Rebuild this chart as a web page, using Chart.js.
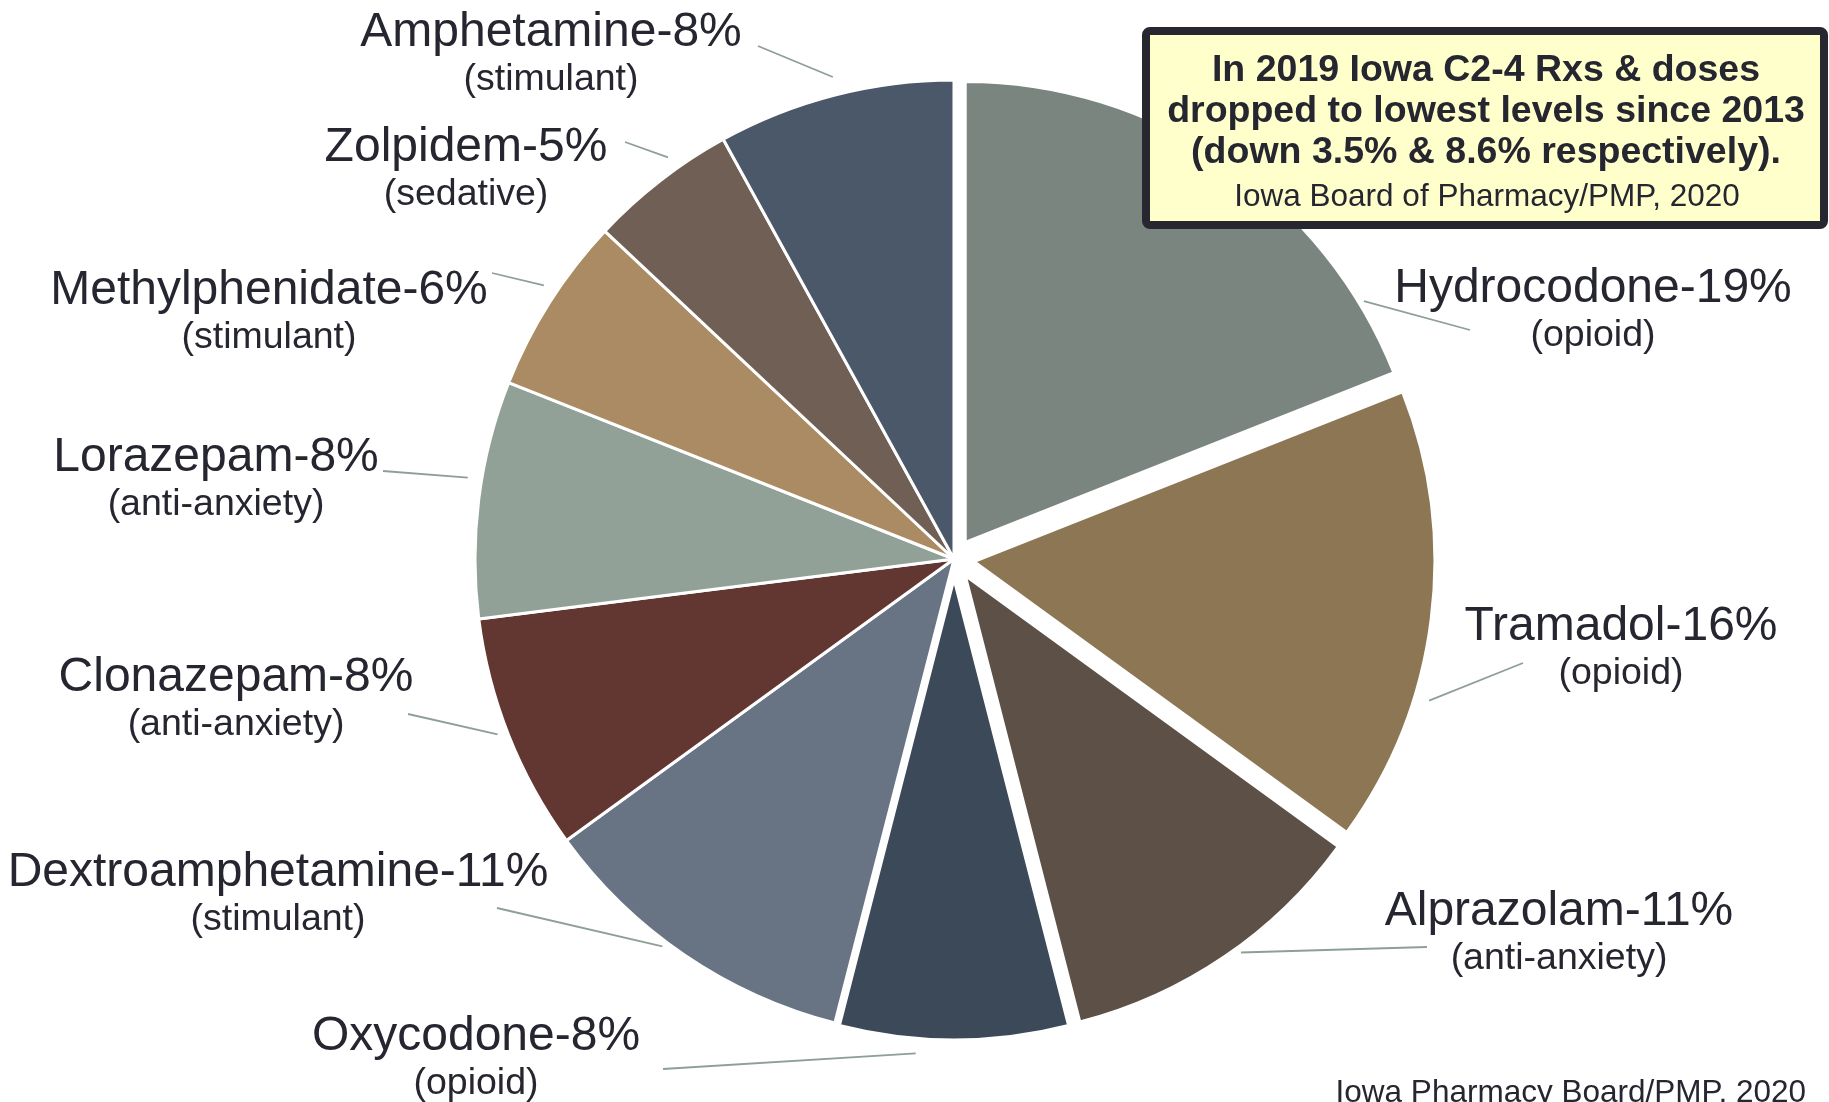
<!DOCTYPE html>
<html>
<head>
<meta charset="utf-8">
<title>Iowa C2-4 Rxs 2019</title>
<script src="https://cdn.jsdelivr.net/npm/chart.js@4.4.1/dist/chart.umd.min.js"></script>
<style>
  html, body { margin:0; padding:0; background:#fff; overflow:hidden; }
  canvas { display:block; }
</style>
</head>
<body>
<canvas id="pie" width="1829" height="1102"></canvas>
<script>
// share of 2019 Iowa C2-4 prescriptions, clockwise from 12 o'clock
var drugs   = ['Hydrocodone','Tramadol','Alprazolam','Oxycodone','Dextroamphetamine','Clonazepam','Lorazepam','Methylphenidate','Zolpidem','Amphetamine'];
var shares  = [19, 16, 11, 8, 11, 8, 8, 6, 5, 8];
var classes = ['opioid','opioid','anti-anxiety','opioid','stimulant','anti-anxiety','anti-anxiety','stimulant','sedative','stimulant'];
var pulledOut = ['Hydrocodone','Tramadol','Alprazolam','Oxycodone'];
var colors  = ['#7b857f','#8c7654','#5d5047','#3c4958','#687484','#633731','#92a197','#ab8b63','#705f54','#4b5869'];

var noteLines  = ['In 2019 Iowa C2-4 Rxs & doses', 'dropped to lowest levels since 2013', '(down 3.5% & 8.6% respectively).'];
var noteSource = 'Iowa Board of Pharmacy/PMP, 2020';
var footer     = 'Iowa Pharmacy Board/PMP, 2020';

// label placement: x = text centre, y = baseline of first line.
// leader goes from the slice rim (t = fraction along the slice, gap = px past the rim) to (lx, ly)
var labelPos = [
  {x:1593, y:302,  lx:1470, ly:330,  t:0.86, gap:5},
  {x:1621, y:640,  lx:1523, ly:663,  t:0.67, gap:15},
  {x:1559, y:925,  lx:1427, ly:947,  t:0.45, gap:6},
  {x:476,  y:1050, lx:663,  ly:1069, t:0.66, gap:15},
  {x:278,  y:886,  lx:497,  ly:908,  t:0.57, gap:6},
  {x:236,  y:691,  lx:408,  ly:714,  t:0.52, gap:10},
  {x:216,  y:471,  lx:383,  ly:471,  t:0.58, gap:14},
  {x:269,  y:304,  lx:492,  ly:273,  t:0.56, gap:14},
  {x:466,  y:161,  lx:625,  ly:142,  t:0.63, gap:14},
  {x:551,  y:46,   lx:758,  ly:46,   t:0.51, gap:18}
];

var FONT = '"Liberation Sans", Arial, Helvetica, sans-serif';
var INK = '#25262f';

// pull some slices out of the pie (and make them a bit smaller, like the original)
var explodePlugin = {
  id: 'explode',
  afterDatasetsUpdate: function (chart, args, opts) {
    var meta = chart.getDatasetMeta(0);
    meta.data.forEach(function (arc, i) {
      if (pulledOut.indexOf(drugs[i]) < 0) return;
      var mid = (arc.startAngle + arc.endAngle) / 2;
      arc.x += Math.cos(mid) * opts.distance;
      arc.y += Math.sin(mid) * opts.distance;
      arc.outerRadius = opts.radius;
    });
  }
};

var labelPlugin = {
  id: 'sliceLabels',
  afterDatasetsDraw: function (chart) {
    var ctx = chart.ctx;
    var meta = chart.getDatasetMeta(0);
    ctx.save();
    // leader lines
    ctx.strokeStyle = '#8e9f96';
    ctx.lineWidth = 1.8;
    meta.data.forEach(function (arc, i) {
      var p = labelPos[i];
      var a = arc.startAngle + p.t * (arc.endAngle - arc.startAngle);
      var r = arc.outerRadius + p.gap;
      ctx.beginPath();
      ctx.moveTo(arc.x + Math.cos(a) * r, arc.y + Math.sin(a) * r);
      ctx.lineTo(p.lx, p.ly);
      ctx.stroke();
    });
    // texts
    ctx.fillStyle = INK;
    ctx.textAlign = 'center';
    ctx.textBaseline = 'alphabetic';
    drugs.forEach(function (d, i) {
      var p = labelPos[i];
      ctx.font = '48px ' + FONT;
      ctx.fillText(d + '-' + shares[i] + '%', p.x, p.y);
      ctx.font = '37.5px ' + FONT;
      ctx.fillText('(' + classes[i] + ')', p.x, p.y + 44);
    });

    // note box
    ctx.fillStyle = '#ffffcc';
    ctx.strokeStyle = '#272730';
    ctx.lineWidth = 8;
    ctx.beginPath();
    ctx.roundRect(1146, 31, 678, 194, 4);
    ctx.fill();
    ctx.stroke();
    ctx.fillStyle = INK;
    ctx.font = 'bold 37.5px ' + FONT;
    noteLines.forEach(function (l, k) {
      ctx.fillText(l, 1486, 81 + k * 41);
    });
    ctx.font = '31.5px ' + FONT;
    ctx.fillText(noteSource, 1487, 206);

    // source, bottom right
    ctx.textAlign = 'right';
    ctx.font = '31.5px ' + FONT;
    ctx.fillText(footer, 1806, 1102);
    ctx.restore();
  }
};

var ctx = document.getElementById('pie').getContext('2d');
var chart = new Chart(ctx, {
  type: 'pie',
  data: {
    labels: drugs,
    datasets: [{
      data: shares,
      backgroundColor: colors,
      borderColor: '#ffffff',
      borderWidth: 3
    }]
  },
  options: {
    responsive: false,
    animation: false,
    radius: 479,
    layout: { padding: { left: 454, right: 375, top: 59, bottom: 43 } },
    plugins: {
      legend: { display: false },
      tooltip: { enabled: false },
      explode: { distance: 20, radius: 461 }
    }
  },
  plugins: [explodePlugin, labelPlugin]
});
</script>
</body>
</html>
